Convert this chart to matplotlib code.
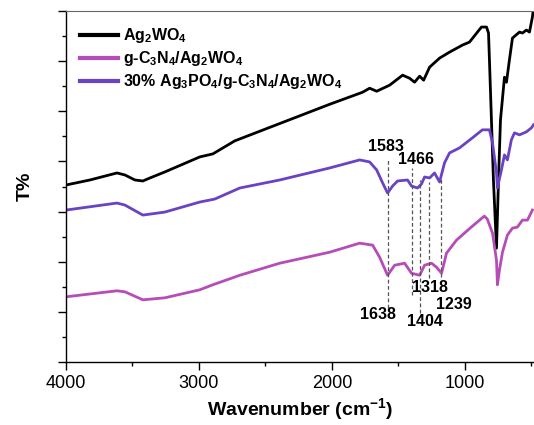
import matplotlib
matplotlib.use("Agg")
import matplotlib.pyplot as plt
from matplotlib.ticker import MultipleLocator

plt.rcParams['font.family'] = ['Liberation Sans', 'DejaVu Sans']
plt.rcParams['mathtext.fontset'] = 'custom'
plt.rcParams['mathtext.rm'] = 'Liberation Sans:bold'
plt.rcParams['mathtext.bf'] = 'Liberation Sans:bold'
plt.rcParams['mathtext.it'] = 'Liberation Sans:bold'
plt.rcParams['mathtext.default'] = 'bf'

# ---------------- data ----------------
labels = [r"Ag$_2$WO$_4$",
          r"g-C$_3$N$_4$/Ag$_2$WO$_4$",
          r"30% Ag$_3$PO$_4$/g-C$_3$N$_4$/Ag$_2$WO$_4$"]
colors = ["#000000", "#b64cb8", "#6a42c4"]

wn_ag2wo4 = [4000, 3820, 3617, 3557, 3482, 3422, 3369, 3257, 2994, 2896, 2731, 2017,
             1770, 1717, 1664, 1567, 1469, 1417, 1379, 1341, 1311, 1266, 1191, 1116,
             1019, 966, 876, 838, 823, 816, 786, 763, 748, 733, 703, 688, 666, 643,
             590, 568, 538, 515, 493, 485]
t_ag2wo4 = [3.53, 3.63, 3.77, 3.73, 3.63, 3.61, 3.67, 3.79, 4.09, 4.15, 4.41, 5.14,
            5.38, 5.46, 5.40, 5.52, 5.72, 5.66, 5.58, 5.70, 5.62, 5.88, 6.06, 6.18,
            6.32, 6.38, 6.68, 6.68, 6.56, 6.02, 3.63, 2.27, 3.63, 4.83, 5.68, 5.58,
            6.02, 6.46, 6.58, 6.56, 6.62, 6.58, 6.88, 7.06]

wn_gcn = [4000, 3617, 3557, 3422, 3257, 2994, 2896, 2693, 2393, 2017, 1792, 1694,
          1642, 1582, 1529, 1454, 1402, 1341, 1304, 1251, 1214, 1176, 1139, 1064,
          944, 854, 832, 793, 763, 756, 741, 718, 681, 643, 606, 568, 530, 493]
t_gcn = [1.30, 1.42, 1.40, 1.24, 1.28, 1.44, 1.54, 1.73, 1.97, 2.19, 2.37, 2.33,
         2.09, 1.73, 1.93, 1.97, 1.77, 1.73, 1.93, 1.97, 1.89, 1.77, 2.17, 2.43,
         2.71, 2.91, 2.85, 2.57, 2.03, 1.54, 1.83, 2.19, 2.53, 2.67, 2.69, 2.83,
         2.83, 3.03]

wn_apo = [4000, 3617, 3557, 3422, 3257, 2994, 2881, 2693, 2393, 2017, 1792, 1717,
          1664, 1619, 1582, 1544, 1507, 1432, 1402, 1357, 1327, 1304, 1266, 1229,
          1191, 1154, 1116, 1041, 944, 869, 816, 793, 763, 756, 726, 703, 681, 651,
          628, 590, 538, 500, 485]
t_apo = [3.03, 3.17, 3.13, 2.93, 2.99, 3.19, 3.25, 3.47, 3.63, 3.87, 4.03, 3.99,
         3.83, 3.57, 3.37, 3.51, 3.61, 3.63, 3.51, 3.47, 3.55, 3.69, 3.67, 3.77,
         3.59, 3.97, 4.17, 4.27, 4.47, 4.63, 4.63, 4.37, 3.77, 3.47, 3.83, 4.13,
         4.03, 4.43, 4.57, 4.53, 4.59, 4.67, 4.73]

# dashed guide lines
guide_x = [1577, 1401, 1336, 1271, 1183]
guide_top = [4.07, 3.87, 3.63, 3.59, 3.69]
guide_bot = [1.08, 1.34, 0.98, 1.67, 1.69]

# peak annotations
peak_text = ["1583", "1466", "1638", "1404", "1318", "1239"]
peak_x = [1597, 1372, 1657, 1304, 1266, 1086]
peak_y = [4.29, 4.03, 0.94, 0.80, 1.48, 1.14]

xticks = [4000, 3000, 2000, 1000]

# ---------------- plot ----------------
fig = plt.figure(figsize=(5.34, 4.25), dpi=100)
ax = fig.add_axes([66/534, 63/425, 1 - 66/534, 351/425])

series = [(wn_ag2wo4, t_ag2wo4), (wn_gcn, t_gcn), (wn_apo, t_apo)]
for (x, y), c, lab in zip(series, colors, labels):
    ax.plot(x, y, color=c, lw=2.0, label=lab, solid_joinstyle='round')

for gx, gt, gb in zip(guide_x, guide_top, guide_bot):
    ax.plot([gx, gx], [gb, gt], color="#555555", lw=0.9, linestyle=(0, (3, 2)))

for t, x, y in zip(peak_text, peak_x, peak_y):
    ax.text(x, y, t, ha='center', va='center', fontsize=11.5, fontweight='bold')

ax.set_xlim(4000, 481)
ax.set_ylim(0, 7)
ax.set_xticks(xticks)
ax.set_xticklabels([str(v) for v in xticks])
ax.xaxis.set_minor_locator(MultipleLocator(500))
ax.yaxis.set_major_locator(MultipleLocator(1))
ax.yaxis.set_minor_locator(MultipleLocator(0.5))
ax.set_yticklabels([])
ax.tick_params(axis='both', which='major', direction='out', length=6, width=1, labelsize=13)
ax.tick_params(axis='both', which='minor', direction='out', length=3, width=1)
ax.spines['right'].set_visible(False)
ax.spines['top'].set_color('#666666')
for s in ['left', 'bottom']:
    ax.spines[s].set_linewidth(1.0)

ax.set_xlabel(r"Wavenumber (cm$^{-1}$)", fontsize=14, fontweight='bold', labelpad=3)
ax.set_ylabel("T%", fontsize=14, fontweight='bold', labelpad=14)

leg = ax.legend(loc='upper left', bbox_to_anchor=(0.0, 0.995), frameon=False,
                handlelength=2.4, handletextpad=0.3,
                labelspacing=0.25, borderaxespad=0.45, prop={'weight': 'bold', 'size': 11.5})
for line in leg.get_lines():
    line.set_linewidth(3)

fig.savefig("out.png", dpi=100)
